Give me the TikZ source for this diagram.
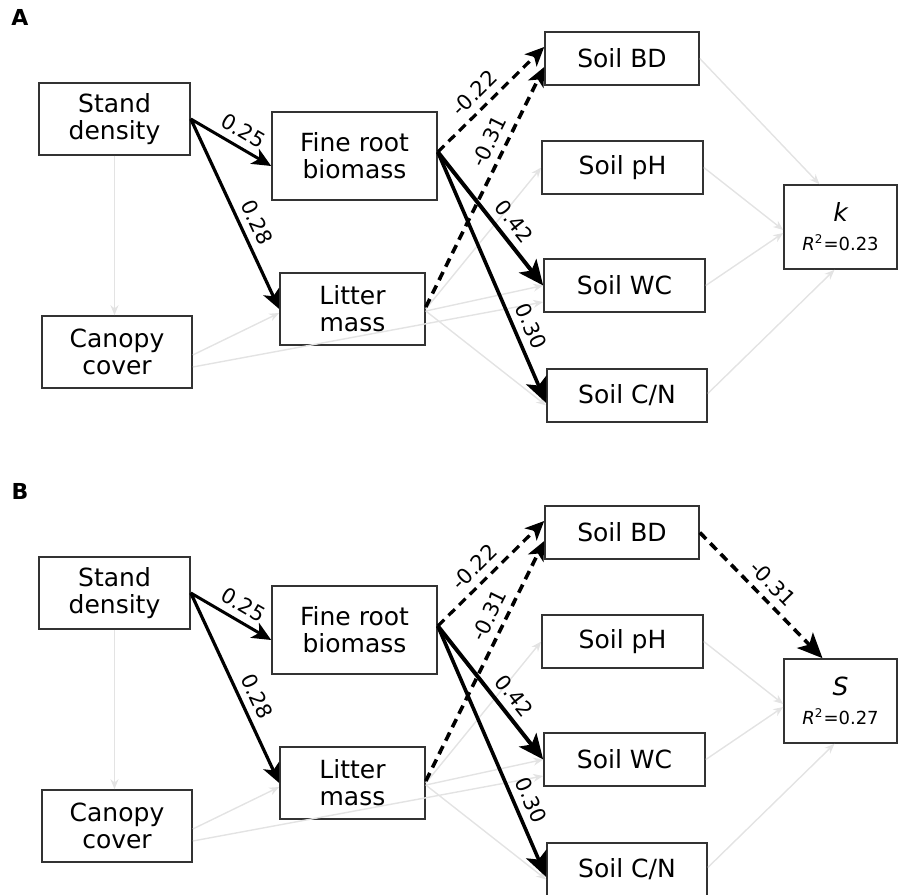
\documentclass[tikz,border=0pt]{standalone}
\usepackage{fontspec}
\setmainfont{DejaVu Sans}
\usetikzlibrary{arrows.meta}

\tikzset{
  var/.style={draw=black!80, line width=0.8pt, fill=white, align=center,
    inner sep=0pt, font=\fontsize{12.5}{13.5}\selectfont},
  weak/.style={draw=black!11, line width=0.7pt, -{Stealth[length=5pt,width=4pt]}},
  effect/.style={draw=black, line width=#1, -{Stealth[length=9.5pt,width=8.5pt,inset=2.5pt]}},
  bigeffect/.style={draw=black, line width=#1, -{Stealth[length=12.5pt,width=11pt,inset=3pt]}},
  negative/.style={dash pattern=on 4.5pt off 3pt},
  coef/.style={font=\fontsize{10.5}{12}\selectfont, sloped, above, inner sep=3.5pt},
  panel/.style={font=\fontsize{11}{12}\selectfont\bfseries}
}

% one SEM panel: #1 letter, #2 response, #3 R2
\newcommand{\sempanel}[3]{%
  \node[panel] (lab) at (20,17) {#1};
  \node[var, minimum width=75.5pt, minimum height=36pt] (sd) at (114.5,119) {Stand\\density};
  \node[var, minimum width=75pt, minimum height=36pt] (cc) at (117,352) {Canopy\\cover};
  \node[var, minimum width=82.5pt, minimum height=44pt] (fr) at (354.5,156) {Fine root\\biomass};
  \node[var, minimum width=72.5pt, minimum height=36pt] (lm) at (352.5,309) {Litter\\mass};
  \node[var, minimum width=77pt, minimum height=26.5pt] (bd) at (622,58.5) {Soil BD};
  \node[var, minimum width=80.5pt, minimum height=26.5pt] (ph) at (622.5,167.5) {Soil pH};
  \node[var, minimum width=80.5pt, minimum height=26.5pt] (wc) at (624.5,285.5) {Soil WC};
  \node[var, minimum width=80pt, minimum height=26.5pt] (cn) at (627,395.5) {Soil C/N};
  \node[var, minimum width=56.5pt, minimum height=42pt] (resp) at (840.5,227)
    {\itshape #2\\[1pt]{\fontsize{9}{10}\selectfont\itshape R\upshape\textsuperscript{2}=#3}};
  % non significant paths
  \draw[weak] (sd.south) -- (sd.south |- cc.north);
  \draw[weak] ([yshift=-1.5pt]cc.east) -- ([yshift=-2pt]lm.west);
  \draw[weak] ([yshift=-7.5pt]cc.east) -- ([yshift=-8.25pt]wc.west);
  \draw[weak] (lm.east) -- (ph.west);
  \draw[weak] ([yshift=-1pt]lm.east) -- (wc.west);
  \draw[weak] ([yshift=-1pt]lm.east) -- ([yshift=-5pt]cn.west);
  \draw[weak] (ph.east) -- ([yshift=-1.5pt]resp.west);
  \draw[weak] (wc.east) -- ([yshift=-3pt]resp.west);
  \draw[weak] ([yshift=1pt]cn.east) -- ([xshift=-3pt]resp.south);
  % significant paths
  \draw[effect=1.5pt] (sd.east) -- node[coef, pos=0.55] {0.25} ([yshift=-5pt]fr.west);
  \draw[effect=1.6pt] (sd.east) -- node[coef, pos=0.58] {0.28} (lm.west);
  \draw[effect=1.6pt, negative] ([yshift=2pt]fr.east) -- node[coef, pos=0.45] {-0.22} ([yshift=5.75pt]bd.west);
  \draw[effect=1.8pt, negative] ([yshift=1pt]lm.east) -- node[coef, pos=0.66] {-0.31} ([yshift=-4.25pt]bd.west);
  \draw[bigeffect=2pt] ([yshift=2pt]fr.east) -- node[coef, pos=0.6] {0.42} (wc.west);
  \draw[bigeffect=1.8pt] ([yshift=2pt]fr.east) -- node[coef, pos=0.72] {0.30} ([yshift=-3.75pt]cn.west);
}

\begin{document}
\begin{tikzpicture}[x=0.5pt, y=-0.5pt]
  \useasboundingbox (0,0) rectangle (899,894);

  \begin{scope}
    \sempanel{A}{k}{0.23}
    \draw[weak] (bd.east) -- ([xshift=-10.5pt]resp.north);
  \end{scope}

  \begin{scope}[yshift=-237pt]
    \sempanel{B}{S}{0.27}
    \draw[bigeffect=1.8pt, negative] (bd.east) -- node[coef, pos=0.5] {-0.31} ([xshift=-9pt]resp.north);
  \end{scope}
\end{tikzpicture}
\end{document}
